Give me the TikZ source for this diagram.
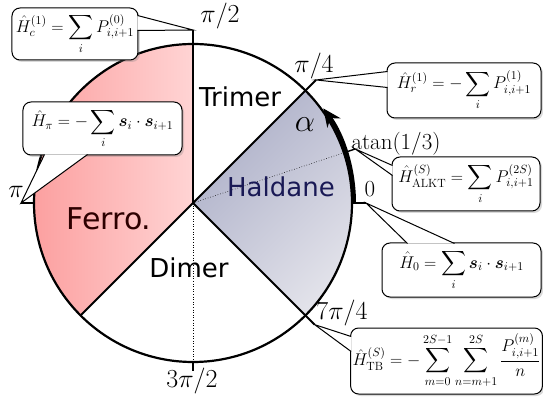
\RequirePackage{fix-cm}
\documentclass[tikz,border=0pt]{standalone}
\usepackage{amsmath}
\usepackage{fontspec}
\setmainfont{Latin Modern Roman}
\newfontfamily\phasefont{DejaVu Sans}
\usetikzlibrary{arrows.meta,calc,shadows}
\definecolor{ferrodark}{RGB}{252,160,160}
\definecolor{ferrolight}{RGB}{255,212,212}
\definecolor{ferrotext}{RGB}{45,0,0}
\definecolor{haldanedark}{RGB}{172,175,200}
\definecolor{haldanelight}{RGB}{228,228,235}
\definecolor{haldanetext}{RGB}{25,25,85}
\tikzset{
  phase/.style={line width=2.2pt},
  thinner/.style={line width=1.8pt},
  fine/.style={line width=0.6pt, dotted},
  angle-label/.style={
    font=\fontsize{26}{30}\selectfont,
    inner sep=0pt
  },
  phase-label/.style={
    font=\phasefont\fontsize{26}{30}\selectfont,
    inner sep=0pt
  },
  callout-box/.style={
    draw=black,
    line width=1pt,
    fill=white,
    rounded corners=8pt,
    drop shadow={opacity=0.3, shadow xshift=2pt, shadow yshift=-2pt},
    font=\fontsize{17}{20}\selectfont,
    inner sep=2pt
  },
  callout-edge/.style={line width=1pt, line join=miter}
}
\newcommand{\callptr}[3]{%
  \fill[white] (#1) -- (#3) -- (#2) -- cycle;
  \draw[callout-edge] (#1) -- (#3) -- (#2);
}

\begin{document}
\begin{tikzpicture}[x=1pt,y=1pt]
  \useasboundingbox (-193,-198) rectangle (350,203);
  \shade[left color=ferrodark, right color=ferrolight]
    (0,0) -- (90:159) arc[start angle=90, end angle=225, radius=159] -- cycle;
  \shade[top color=haldanedark, bottom color=haldanelight, shading angle=45]
    (0,0) -- (-45:159) arc[start angle=-45, end angle=45, radius=159] -- cycle;
  \draw[fine] (0,0) -- (0,-159);
  \draw[fine] (0,0) -- (18.43:159);
  \draw[phase] (0,0) circle[radius=159];
  \coordinate (tip-c) at (90:173);
  \coordinate (tip-r) at (45:174);
  \coordinate (tip-alkt) at (18.43:171);
  \coordinate (tip-zero) at (173,0);
  \coordinate (tip-pi) at (-172,0);
  \coordinate (tip-tb) at (-45:172);
  \draw[thinner] (0,0) -- (tip-c);
  \draw[thinner] (0,0) -- (tip-r);
  \draw[thinner] (0,0) -- (225:159);
  \draw[thinner] (0,0) -- (tip-tb);
  \draw[thinner] (159,0) -- (tip-zero);
  \draw[thinner] (-159,0) -- (tip-pi);
  \draw[thinner] (0,-159) -- (0,-168);
  \draw[line width=1.4pt] (18.43:159) -- (tip-alkt);
  \draw[line width=4pt, -{Stealth[length=18pt, width=16pt]}]
    (0:161) arc[start angle=0, end angle=36, radius=161];

  \node[angle-label] (pi-half) at (27,187) {$\pi/2$};
  \node[angle-label] (pi-quarter) at (121,137) {$\pi/4$};
  \node[angle-label, font=\fontsize{23}{27}\selectfont] (atan) at (203,59) {atan$(1/3)$};
  \node[angle-label, font=\fontsize{23}{27}\selectfont] (zero) at (177,14) {$0$};
  \node[angle-label] (seven-quarter) at (149,-110) {$7\pi/4$};
  \node[angle-label] (three-half) at (-1,-178) {$3\pi/2$};
  \node[angle-label] (pi) at (-177,11) {$\pi$};
  \node[angle-label, font=\fontsize{32}{36}\selectfont] (alpha) at (112,78) {$\alpha$};

  \node[phase-label] (trimer) at (47,106) {Trimer};
  \node[phase-label, text=haldanetext] (haldane) at (88,16) {Haldane};
  \node[phase-label, text=ferrotext, font=\phasefont\fontsize{30}{34}\selectfont] (ferro) at (-84,-16) {Ferro.};
  \node[phase-label] (dimer) at (-4,-64.5) {Dimer};

  \node[callout-box, minimum width=126pt, minimum height=52pt] (hc) at (-118,169)
    {$\displaystyle \hat{H}_c^{(1)} = \sum_i P_{i,i+1}^{(0)}$};
  \node[callout-box, minimum width=159pt, minimum height=53pt] (hpi) at (-90.5,74.5)
    {$\displaystyle \hat{H}_\pi = -\sum_i \boldsymbol{s}_i\cdot\boldsymbol{s}_{i+1}$};
  \node[callout-box, minimum width=154pt, minimum height=55pt] (hr) at (271,112.5)
    {$\displaystyle \hat{H}_r^{(1)} = -\sum_i P_{i,i+1}^{(1)}$};
  \node[callout-box, minimum width=148pt, minimum height=54pt] (halkt) at (273,19)
    {$\displaystyle \hat{H}_{\mathrm{ALKT}}^{(S)} = \sum_i P_{i,i+1}^{(2S)}$};
  \node[callout-box, minimum width=159pt, minimum height=54pt] (hzero) at (268.5,-67)
    {$\displaystyle \hat{H}_0 = \sum_i \boldsymbol{s}_i\cdot\boldsymbol{s}_{i+1}$};
  \node[callout-box, minimum width=189pt, minimum height=66pt] (htb) at (253.5,-158)
    {$\displaystyle \hat{H}_{\mathrm{TB}}^{(S)} = -\sum_{m=0}^{2S-1}\sum_{n=m+1}^{2S}\frac{P_{i,i+1}^{(m)}}{n}$};

  \callptr{$(hc.north east)+(-1,-8)$}{$(hc.north east)+(-1,-23)$}{tip-c}
  \callptr{$(hpi.south west)+(22,1)$}{$(hpi.south west)+(65,1)$}{tip-pi}
  \callptr{$(hr.north west)+(1,-9)$}{$(hr.north west)+(1,-25)$}{tip-r}
  \callptr{$(halkt.north west)+(1,-9)$}{$(halkt.north west)+(1,-19)$}{tip-alkt}
  \callptr{$(hzero.north west)+(26,-1)$}{$(hzero.north west)+(73,-1)$}{tip-zero}
  \callptr{$(htb.north west)+(1,-9)$}{$(htb.north west)+(1,-24)$}{tip-tb}
\end{tikzpicture}
\end{document}
